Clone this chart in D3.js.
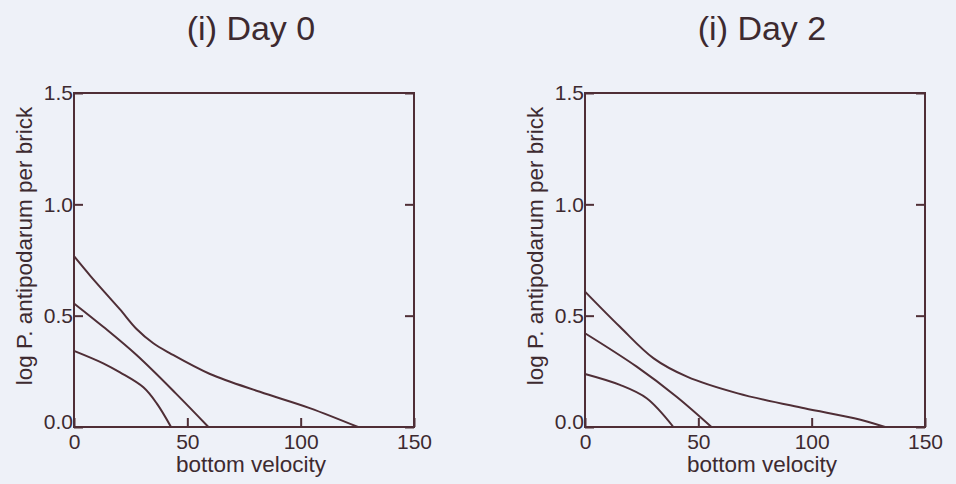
<!DOCTYPE html>
<html>
<head>
<meta charset="utf-8">
<script src="https://cdn.jsdelivr.net/npm/d3@7"></script>
<style>
  body { margin: 0; background: #eef1f8; }
  svg { display: block; font-family: "Liberation Sans", Arial, sans-serif; }
</style>
</head>
<body>
<div id="chart"></div>
<script>
// panel titles
const panelTitles = ["(i) Day 0", "(i) Day 2"];
const xTicks = [0, 50, 100, 150];
const yTicks = [0.0, 0.5, 1.0, 1.5];

// curves, [velocity, log P. antipodarum]
const day0Upper = [[0, 0.767], [7.1, 0.68], [14, 0.6], [20.3, 0.528], [27.6, 0.44], [35, 0.376], [42.4, 0.331], [60, 0.238], [82, 0.158], [104, 0.085], [125.3, 0]];
const day0Mid = [[0, 0.555], [12.9, 0.45], [27.6, 0.323], [45, 0.15], [59.3, 0]];
const day0Lower = [[0, 0.342], [12.9, 0.286], [20.3, 0.245], [30.6, 0.178], [36.5, 0.106], [42.8, 0]];

const day2Upper = [[0, 0.608], [15.4, 0.45], [30.3, 0.308], [45, 0.226], [67.4, 0.151], [96.8, 0.084], [118.8, 0.039], [132.4, 0]];
const day2Mid = [[0, 0.421], [22.8, 0.271], [40.4, 0.136], [55.8, 0]];
const day2Lower = [[0, 0.238], [15.4, 0.189], [27.2, 0.129], [39, 0]];

const panels = [
    { title: panelTitles[0], left: 74, curves: [day0Upper, day0Mid, day0Lower] },
    { title: panelTitles[1], left: 585, curves: [day2Upper, day2Mid, day2Lower] }
];

const W = 956, H = 484;
const plotTop = 93, plotBottom = 427, plotW = 340;
const ink = "#3d2a30", lineCol = "#4f2e36";

const svg = d3.select("#chart").append("svg")
    .attr("width", W)
    .attr("height", H);

const y = d3.scaleLinear().domain([0, 1.5]).range([plotBottom, plotTop]);

panels.forEach(p => {
    const x = d3.scaleLinear().domain([0, 150]).range([p.left, p.left + plotW]);
    const g = svg.append("g");

    // frame
    g.append("rect")
        .attr("x", x(0)).attr("y", y(1.5))
        .attr("width", x(150) - x(0)).attr("height", y(0) - y(1.5))
        .attr("fill", "none").attr("stroke", lineCol).attr("stroke-width", 2);

    // axes, ticks pointing in
    const xAxis = g.append("g")
        .attr("transform", `translate(0,${plotBottom})`)
        .call(d3.axisBottom(x).tickValues(xTicks).tickSizeInner(-9).tickSizeOuter(0).tickPadding(7));
    const yAxis = g.append("g")
        .attr("transform", `translate(${p.left},0)`)
        .call(d3.axisLeft(y).tickValues(yTicks).tickSizeInner(-9).tickSizeOuter(0).tickPadding(1).tickFormat(d3.format(".1f")));

    // right side ticks
    g.append("g")
        .attr("transform", `translate(${p.left + plotW},0)`)
        .call(d3.axisRight(y).tickValues(yTicks).tickSizeInner(-9).tickSizeOuter(0).tickFormat(""));

    [xAxis, yAxis].forEach(a => {
        a.selectAll("text").attr("fill", ink).style("font-size", "21px").style("font-family", "Liberation Sans, Arial, sans-serif");
    });
    g.selectAll(".domain").remove();
    g.selectAll(".tick line").attr("stroke", lineCol).attr("stroke-width", 2);
    yAxis.selectAll(".tick").filter(d => d === 0).select("text").attr("dy", "0.05em");

    // curves
    const line = d3.line()
        .x(d => x(d[0]))
        .y(d => y(d[1]))
        .curve(d3.curveCatmullRom.alpha(0.5));

    g.selectAll("path.curve")
        .data(p.curves)
        .join("path")
        .attr("class", "curve")
        .attr("d", line)
        .attr("fill", "none")
        .attr("stroke", lineCol)
        .attr("stroke-width", 2);

    // titles and axis labels
    const cx = p.left + plotW / 2 + 7;
    g.append("text")
        .attr("x", cx).attr("y", 40)
        .attr("text-anchor", "middle")
        .attr("fill", ink)
        .style("font-size", "34px")
        .text(p.title);

    g.append("text")
        .attr("x", cx).attr("y", 472)
        .attr("text-anchor", "middle")
        .attr("fill", ink)
        .style("font-size", "22.5px")
        .text("bottom velocity");

    g.append("text")
        .attr("transform", `translate(${p.left - 42},246) rotate(-90)`)
        .attr("text-anchor", "middle")
        .attr("fill", ink)
        .style("font-size", "22.5px")
        .text("log P. antipodarum per brick");
});
</script>
</body>
</html>
